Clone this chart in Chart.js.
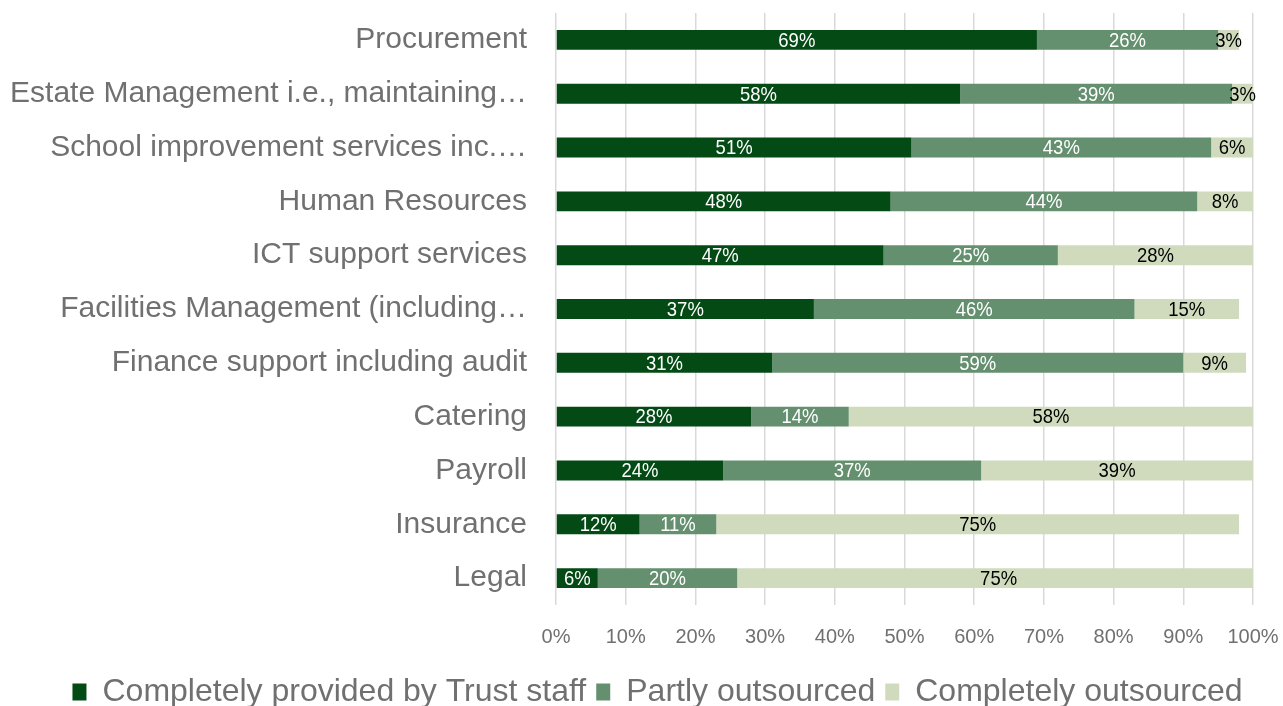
<!DOCTYPE html>
<html>
<head>
<meta charset="utf-8">
<script src="https://cdn.jsdelivr.net/npm/chart.js"></script>
<style>
  html, body { margin: 0; padding: 0; background: #fff; }
  #wrap { width: 1283px; height: 706px; position: relative; }
</style>
</head>
<body>
<div id="wrap"><canvas id="chart"></canvas></div>
<script>
const categories = [
  "Procurement",
  "Estate Management i.e., maintaining…",
  "School improvement services inc.…",
  "Human Resources",
  "ICT support services",
  "Facilities Management (including…",
  "Finance support including audit",
  "Catering",
  "Payroll",
  "Insurance",
  "Legal"
];
const trustStaff = [69, 58, 51, 48, 47, 37, 31, 28, 24, 12, 6];
const partly = [26, 39, 43, 44, 25, 46, 59, 14, 37, 11, 20];
const outsourced = [3, 3, 6, 8, 28, 15, 9, 58, 39, 75, 75];
const tickLabels = ["0%", "10%", "20%", "30%", "40%", "50%", "60%", "70%", "80%", "90%", "100%"];

const colors = ["#034A14", "#64906F", "#D0DBBD"];
const labelColors = ["#ffffff", "#ffffff", "#000000"];
const textGray = "#707070";

// writes each segment's percentage in the middle of its bar (slightly squeezed)
const barLabels = {
  id: "barLabels",
  afterDatasetsDraw(chart) {
    const ctx = chart.ctx;
    const squeeze = 0.88;
    ctx.save();
    ctx.font = '21px "Liberation Sans", Arial, sans-serif';
    ctx.textAlign = "center";
    ctx.textBaseline = "middle";
    chart.data.datasets.forEach((ds, di) => {
      const meta = chart.getDatasetMeta(di);
      meta.data.forEach((bar, i) => {
        const cx = (bar.x + bar.base) / 2;
        ctx.save();
        ctx.translate(cx, bar.y + 1);
        ctx.scale(squeeze, 1);
        ctx.fillStyle = labelColors[di];
        ctx.fillText(ds.data[i] + "%", 0, 0);
        ctx.restore();
      });
    });
    ctx.restore();
  }
};

// nudge the bottom legend a little to the right
const legendShift = {
  id: "legendShift",
  afterLayout(chart) {
    if (chart.legend) {
      chart.legend.left += 16;
      chart.legend.right += 16;
    }
  }
};

new Chart(document.getElementById("chart"), {
  type: "bar",
  data: {
    labels: categories,
    datasets: [
      { label: "Completely provided by Trust staff", data: trustStaff, backgroundColor: colors[0] },
      { label: "Partly outsourced", data: partly, backgroundColor: colors[1] },
      { label: "Completely outsourced", data: outsourced, backgroundColor: colors[2] }
    ]
  },
  options: {
    indexAxis: "y",
    responsive: true,
    maintainAspectRatio: false,
    animation: false,
    layout: { padding: { top: 13, right: 0, bottom: -12, left: 0 } },
    datasets: {
      bar: { categoryPercentage: 1, barPercentage: 0.37 }
    },
    scales: {
      x: {
        stacked: true,
        min: 0,
        max: 100,
        grid: { color: "#d9d9d9", lineWidth: 1.5, drawTicks: false },
        border: { display: false },
        ticks: {
          stepSize: 10,
          padding: 20,
          color: textGray,
          font: { family: '"Liberation Sans", Arial, sans-serif', size: 20 },
          callback: (v, i) => tickLabels[i]
        },
        afterFit: (axis) => {
          axis.height = 61;
          axis.paddingLeft = 0;
          axis.paddingRight = 30;
        }
      },
      y: {
        stacked: true,
        grid: { display: false, drawTicks: false },
        border: { display: false },
        ticks: {
          padding: 29,
          color: textGray,
          font: { family: '"Liberation Sans", Arial, sans-serif', size: 30 }
        },
        afterFit: (axis) => {
          axis.width = 556;
          axis.paddingTop = 0;
          axis.paddingBottom = 0;
        }
      }
    },
    plugins: {
      legend: {
        position: "bottom",
        labels: {
          boxWidth: 14,
          boxHeight: 17,
          padding: 10,
          color: textGray,
          font: { family: '"Liberation Sans", Arial, sans-serif', size: 32 }
        }
      },
      tooltip: { enabled: false }
    }
  },
  plugins: [barLabels, legendShift]
});
</script>
</body>
</html>
